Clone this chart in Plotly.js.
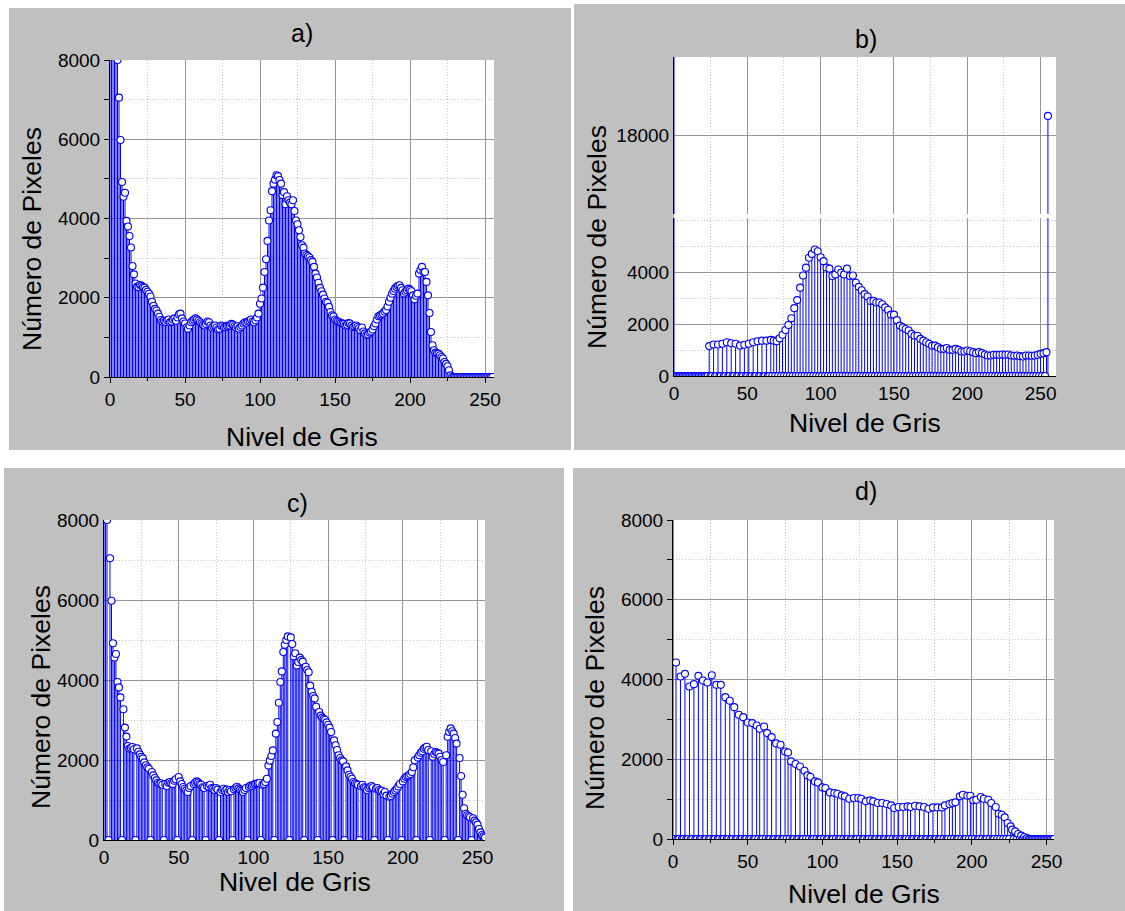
<!DOCTYPE html>
<html><head><meta charset="utf-8">
<script src="https://cdn.plot.ly/plotly-3.0.1.min.js"></script>
<style>html,body{margin:0;padding:0;background:#fff;} #chart{width:1125px;height:911px;}</style>
</head><body><div id="chart"></div>
<script>
// ---------------- DATA ----------------
const grayLevels = Array.from({length: 256}, (_, i) => i);

const countsA = [
 9500,12000,10500,9000,8500,8000,7050,5980,4920,4550,4650,3940,3800,3560,3270,2800,
 2590,2360,2280,2270,2320,2300,2270,2255,2200,2150,2100,2030,1900,1800,1720,1680,
 1600,1520,1440,1400,1420,1390,1430,1450,1380,1400,1450,1480,1420,1500,1580,1600,
 1480,1400,1350,1250,1220,1300,1380,1420,1450,1480,1450,1420,1380,1350,1320,1300,
 1340,1400,1380,1300,1250,1280,1300,1250,1200,1220,1300,1280,1250,1260,1290,1280,
 1300,1340,1320,1280,1250,1280,1220,1260,1300,1350,1380,1370,1400,1420,1450,1400,
 1380,1430,1500,1600,1850,1980,2255,2650,2970,3435,3950,4210,4690,4880,4980,5090,
 5070,4970,4880,4590,4665,4360,4560,4460,4400,4360,4460,4190,3950,3855,3705,3535,
 3325,3265,3115,3080,3050,3015,2950,2905,2780,2610,2510,2380,2250,2165,2080,1980,
 1900,1875,1770,1640,1560,1530,1450,1420,1400,1380,1360,1350,1340,1300,1320,1360,
 1350,1300,1260,1280,1300,1270,1230,1180,1250,1150,1100,1060,1080,1120,1150,1200,
 1280,1350,1450,1530,1550,1580,1600,1650,1690,1780,1900,2000,2100,2170,2230,2270,
 2300,2315,2250,2190,2105,2150,2190,2230,2200,2165,2060,1960,2050,2105,2610,2700,
 2780,2650,2650,2400,2060,1615,1135,800,675,615,600,590,550,505,465,380,
 330,270,170,40,0,0,0,0,0,0,0,0,0,0,0,0,
 0,0,0,0,0,0,0,0,0,0,0,0,0,0,0,0
];

const countsB = [
 25000,0,0,0,0,0,0,0,0,0,0,0,0,0,0,0,
 0,0,0,0,0,0,0,0,1150,0,0,1210,0,0,1210,0,
 0,1240,0,0,1300,0,0,1260,0,0,1240,0,0,1170,0,0,
 1200,0,0,1240,0,0,1300,0,0,1340,0,0,1360,0,0,1360,
 0,0,1390,0,1360,0,1340,0,1450,0,1590,0,1770,0,1960,0,
 2220,0,2610,0,2920,0,3400,0,3870,0,4170,0,4550,0,4700,0,
 4870,0,4800,0,4570,0,4420,0,4170,0,4130,0,3850,0,3910,0,
 4100,0,3975,0,3910,0,4130,0,3850,0,3870,0,3590,0,3430,0,
 3300,0,3150,0,3060,0,2890,0,2890,0,2830,0,2830,0,2760,0,
 2640,0,2550,0,2360,0,2360,0,2150,0,1940,0,1870,0,1810,0,
 1750,0,1620,0,1550,0,1550,0,1430,0,1360,0,1300,0,1240,0,
 1170,0,1170,0,1110,0,1045,0,1045,0,1080,0,1006,0,1006,0,
 1045,0,1006,0,943,0,943,0,981,0,955,0,917,0,879,0,
 917,0,879,0,828,0,790,0,790,0,815,0,815,0,815,0,
 828,0,815,0,828,0,790,0,777,0,790,0,764,0,752,0,
 790,0,790,0,777,0,790,0,815,0,853,0,879,0,917,19000
];

const countsC = [
 10500,9000,8000,0,7045,5980,4920,4560,4650,3950,3815,3565,0,3270,2810,2585,
 2350,2285,2300,2325,2270,0,2290,2205,2140,2080,2040,1940,1870,1820,1785,0,
 1700,1615,1550,1490,1430,1405,1420,1380,0,1400,1350,1430,1450,1420,1400,1480,
 1520,0,1575,1465,1400,1325,1280,1240,1200,1300,1350,0,1400,1430,1465,1440,
 1400,1380,1320,1300,0,1350,1330,1380,1300,1280,1250,1300,1260,0,1200,1250,
 1280,1230,1260,1200,1250,1220,0,1270,1300,1330,1290,1260,1230,1200,1250,1300,
 0,1330,1360,1350,1380,1400,1410,1420,1425,0,1380,1400,1450,1530,1860,1985,
 2100,2240,0,2660,2950,3430,3950,4215,4700,4880,5000,5090,0,5065,4900,4590,
 4670,4360,4450,4560,4500,4460,0,4330,4250,4195,3860,3705,3600,3540,3330,0,
 3200,3110,3060,3030,3005,2940,2880,2810,2700,0,2490,2370,2250,2120,2050,1990,
 1965,0,1840,1740,1630,1580,1530,1450,1420,1400,1380,0,1350,1380,1320,1300,
 1250,1300,1330,1350,1320,0,1280,1300,1250,1220,1230,1150,1200,1110,0,1080,
 1100,1155,1200,1240,1280,1340,1400,0,1465,1530,1575,1600,1615,1650,1700,1820,
 1990,0,2060,2120,2180,2220,2280,2310,2330,2250,0,2220,2080,2150,2200,2180,
 2160,2080,2000,1950,0,2120,2580,2700,2790,2720,2660,2550,2410,0,2050,1600,
 1130,795,655,620,595,570,0,545,485,440,385,275,190,125,90,60
];

const countsD = [
 9000,0,4426,0,0,4075,0,0,4142,0,0,3825,0,0,3883,0,
 0,4092,0,0,3975,0,0,3925,0,0,4108,0,0,3866,0,0,
 3866,0,0,3557,0,0,3466,0,0,3307,0,0,3115,0,0,3056,
 0,0,2923,0,0,2906,0,0,2848,0,2764,0,0,2823,0,2656,
 0,0,2555,0,0,2397,0,0,2363,0,0,2196,0,2171,0,1946,
 0,0,1879,0,0,1820,0,0,1712,0,1595,0,1562,0,0,1445,
 0,1420,0,0,1294,0,1278,0,0,1169,0,0,1152,0,1136,0,
 0,1094,0,1069,0,0,1010,0,0,1027,0,0,1027,0,1010,0,
 0,944,0,0,969,0,944,0,0,902,0,0,902,0,0,877,
 0,0,843,0,777,0,0,802,0,0,802,0,0,818,0,802,
 0,0,835,0,0,818,0,0,802,0,0,760,0,0,793,0,
 0,793,0,0,793,0,843,0,0,877,0,902,0,919,0,0,
 1069,0,1111,0,0,1086,0,1086,0,969,0,985,0,0,1052,0,
 1010,0,0,985,0,902,0,0,802,0,635,0,610,0,543,0,
 401,0,317,234,0,192,0,125,0,84,0,50,0,25,0,0,
 0,0,0,0,0,0,0,0,0,0,0,0,0,0,0,0
];

const xTickVals = [0, 50, 100, 150, 200, 250];
const yTickVals = [0, 2000, 4000, 6000, 8000];
const yTickValsBLow = [0, 2000, 4000];
const yTickValsBHigh = [18000];
const panelTitles = ['a)', 'b)', 'c)', 'd)'];
const xTitleText = 'Nivel de Gris';
const yTitleText = 'Número de Pixeles';

// ---------------- STYLE / LAYOUT ----------------
const W = 1125, H = 911;
const FONT = 'Liberation Sans, Arial, Helvetica, sans-serif';
const BLUE = '#0000ff';
const PANEL_GREY = '#c0c0c0';
const px = v => v / W;
const py = v => 1 - v / H;

function stems(counts, xa, ya) {
  const sx = [], sy = [];
  counts.forEach((v, i) => {
    if (v > 0) { sx.push(grayLevels[i], grayLevels[i], null); sy.push(0, v, null); }
  });
  return [
    {type: 'scatter', mode: 'lines', x: sx, y: sy, xaxis: xa, yaxis: ya,
     line: {color: BLUE, width: 1}, hoverinfo: 'skip', showlegend: false},
    {type: 'scatter', mode: 'markers', x: grayLevels, y: counts, xaxis: xa, yaxis: ya,
     marker: {symbol: 'circle', size: 7, color: '#ffffff', line: {color: BLUE, width: 1.1}},
     showlegend: false}
  ];
}

const traces = [].concat(
  stems(countsA, 'x', 'y'),
  stems(countsB, 'x2', 'y2'),
  stems(countsB, 'x2', 'y3'),
  stems(countsC, 'x3', 'y4'),
  stems(countsD, 'x4', 'y5')
);

const tickFont = {family: FONT, size: 19, color: '#000'};
const MAJOR_GRID = '#969696';
const MINOR_GRID = '#c4c4c4';
const MINOR_DASH = '1px,2px';

function xAx(l, r, range, anchor, withTicks, layer) {
  return {
    domain: [px(l), px(r)], range: range, anchor: anchor,
    tickmode: 'array', tickvals: xTickVals, ticktext: xTickVals.map(String),
    ticks: withTicks ? 'outside' : '', ticklen: 5, tickwidth: 1, tickcolor: '#000',
    showline: true, linecolor: '#000', linewidth: 1, zeroline: false,
    showgrid: true, gridcolor: MAJOR_GRID, gridwidth: 1,
    minor: {dtick: 25, tick0: 0, ticks: withTicks ? 'outside' : '', ticklen: 3, tickcolor: '#000',
            showgrid: true, gridcolor: MINOR_GRID, griddash: MINOR_DASH, gridwidth: 1},
    tickfont: tickFont, fixedrange: true, layer: layer
  };
}
function yAx(b, t, range, anchor, tickvals, withTicks, minorDtick, layer) {
  const ax = {
    domain: [py(b), py(t)], range: range, anchor: anchor,
    tickmode: 'array', tickvals: tickvals, ticktext: tickvals.map(String),
    ticks: withTicks ? 'outside' : '', ticklen: 5, tickwidth: 1, tickcolor: '#000',
    showline: true, linecolor: '#000', linewidth: 1, zeroline: false,
    showgrid: true, gridcolor: MAJOR_GRID, gridwidth: 1,
    tickfont: tickFont, fixedrange: true, layer: layer
  };
  if (minorDtick) {
    ax.minor = {dtick: minorDtick, tick0: 0, ticks: withTicks ? 'outside' : '', ticklen: 5, tickcolor: '#000',
                showgrid: true, gridcolor: MINOR_GRID, griddash: MINOR_DASH, gridwidth: 1};
  }
  return ax;
}

function rect(x0, y0, x1, y1, color) {
  return {type: 'rect', xref: 'paper', yref: 'paper', x0: px(x0), x1: px(x1), y0: py(y1), y1: py(y0),
          fillcolor: color, line: {width: 0}, layer: 'below'};
}
function ann(text, x, y, size, angle) {
  return {text: text, x: px(x), y: py(y), xref: 'paper', yref: 'paper', xanchor: 'center', yanchor: 'middle',
          showarrow: false, textangle: angle || 0, font: {family: FONT, size: size, color: '#000'}};
}

const layout = {
  width: W, height: H, margin: {l: 0, r: 0, t: 0, b: 0, pad: 0},
  paper_bgcolor: '#ffffff', plot_bgcolor: 'rgba(0,0,0,0)', showlegend: false,
  font: {family: FONT, color: '#000'},
  xaxis:  xAx(110, 494, [0, 256], 'y', true, 'above traces'),
  yaxis:  yAx(377, 60, [0, 8000], 'x', yTickVals, true, 1000, 'above traces'),
  xaxis2: xAx(674, 1056, [0, 260.5], 'y2', false, 'below traces'),
  yaxis2: yAx(376, 218, [0, 6080], 'x2', yTickValsBLow, false, 1000, 'below traces'),
  yaxis3: yAx(214, 57, [14000, 22000], 'x2', yTickValsBHigh, false, 0, 'below traces'),
  xaxis3: xAx(104, 485, [0, 255], 'y4', false, 'below traces'),
  yaxis4: yAx(840, 520, [0, 8000], 'x3', yTickVals, false, 1000, 'below traces'),
  xaxis4: xAx(673, 1054, [0, 255], 'y5', true, 'below traces'),
  yaxis5: yAx(839, 520, [0, 8000], 'x4', yTickVals, true, 1000, 'below traces'),
  shapes: [
    rect(9, 8, 571, 450, PANEL_GREY),
    rect(574, 4, 1125, 450, PANEL_GREY),
    rect(4, 468, 564, 911, PANEL_GREY),
    rect(573, 468, 1125, 911, PANEL_GREY),
    rect(110, 60, 494, 377, '#ffffff'),
    rect(674, 57, 1056, 376, '#ffffff'),
    rect(104, 520, 485, 840, '#ffffff'),
    rect(673, 520, 1054, 839, '#ffffff')
  ],
  annotations: [
    ann(panelTitles[0], 302, 33, 25), ann(xTitleText, 302, 437, 26.5), ann(yTitleText, 32, 239, 26.5, -90),
    ann(panelTitles[1], 866, 39, 25), ann(xTitleText, 865, 423, 26.5), ann(yTitleText, 597, 237, 26.5, -90),
    ann(panelTitles[2], 297, 503, 25), ann(xTitleText, 295, 882, 26.5), ann(yTitleText, 41, 697, 26.5, -90),
    ann(panelTitles[3], 866, 491, 25), ann(xTitleText, 864, 894, 26.5), ann(yTitleText, 595, 698, 26.5, -90)
  ]
};

Plotly.newPlot('chart', traces, layout, {displayModeBar: false, staticPlot: true});
</script></body></html>
